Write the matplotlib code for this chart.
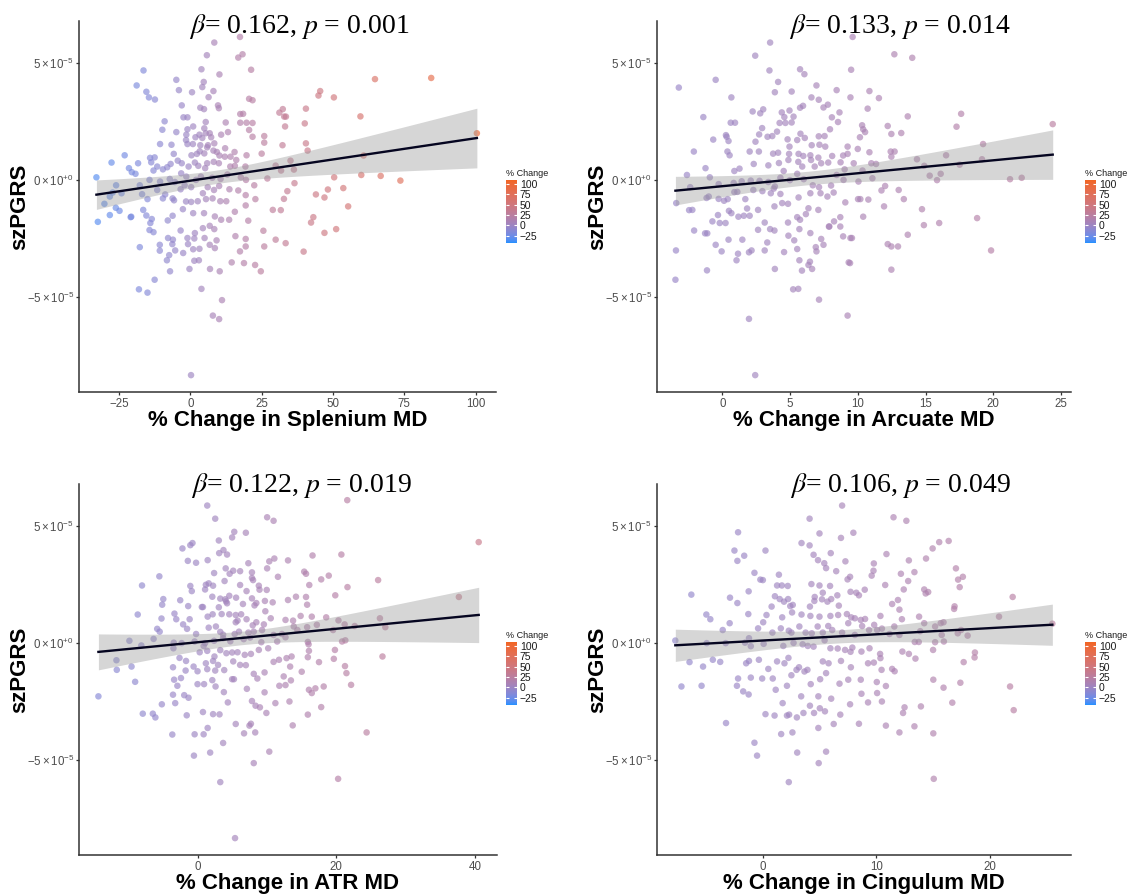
import matplotlib.pyplot as plt
import numpy as np
from matplotlib.colors import ListedColormap, Normalize, to_rgb
from matplotlib.cm import ScalarMappable

plt.rcParams['font.family'] = ['Liberation Sans', 'DejaVu Sans']
plt.rcParams['mathtext.fontset'] = 'custom'
plt.rcParams['mathtext.rm'] = 'Liberation Sans'
plt.rcParams['mathtext.it'] = 'Liberation Sans:italic'

# ---- data (szPGRS in units of 1e-5) ----
spl_x = [8.4, 17.4, 18.3, 16.8, 5.8, 21.3, 3.9, 10.2, -16.4, -18.8,
         -15.4, -14.5, -12.4, -4.9, -4.0, 0.6, 4.7, 4.2, 8.1, 6.4,
         20.6, 21.8, 45.5, 44.9, 50.3, 64.7, 84.4, -3.0, 3.5, 4.8,
         9.7, 10.0, 32.4, 31.2, 40.5, 17.5, 18.5, -2.4, -1.0, -9.0,
         5.4, 17.5, 19.7, 21.8, 32.9, 33.5, 59.6, 40.1, -9.8, -1.0,
         1.0, 4.9, 12.4, 20.6, 33.2, -4.9, -1.4, 3.2, 5.4, 6.8,
         10.8, 13.2, 25.9, 100.4, -1.5, 1.8, 4.2, 7.3, 21.8, 25.9,
         -10.6, -6.6, -1.0, 0.9, 3.5, 6.2, 8.4, 12.2, 32.3, 40.5,
         3.3, 5.9, 8.1, 9.3, 15.5, 41.1, -23.0, -14.1, -12.5, -5.8,
         0.4, 2.3, 4.9, 10.2, 12.1, 14.1, 19.7, 25.0, -27.6, -18.3,
         -13.7, -11.6, -6.9, -4.4, -3.0, 1.6, 5.9, 8.2, 10.0, 16.1,
         19.3, 35.1, 60.7, -21.5, -20.5, -19.2, -12.9, -9.6, -8.1, -3.2,
         -0.6, 2.8, 5.2, 14.0, 15.6, 29.9, 36.3, 31.8, 50.4, 59.9,
         66.7, 73.6, -32.9, -26.0, -17.7, -14.3, -10.6, -7.2, -5.4, -1.4,
         2.0, 3.7, 7.7, 10.6, 13.0, 17.7, 19.5, 27.0, -28.2, -27.2,
         -24.1, -16.9, -15.0, -11.6, -8.8, -6.2, -3.4, -2.0, 0.3, 4.4,
         6.1, 8.3, 10.1, 13.7, 16.8, 22.4, 34.0, 36.5, 44.0, 48.2,
         53.6, 47.0, -30.1, -26.1, -24.8, -16.5, -9.6, -5.7, -1.5, 0.3,
         2.6, 5.5, 7.8, 10.5, 12.6, 19.4, 22.8, 32.8, 55.3, -32.4,
         -28.2, -20.9, -20.7, -15.4, -13.5, -14.0, -7.9, -6.2, -2.6, 1.0,
         4.8, 8.6, 10.8, 15.6, 19.4, 28.9, 31.7, -14.3, -12.9, -3.4,
         1.6, 4.4, 6.8, 8.4, 13.6, 20.3, 43.1, 42.3, 25.6, 47.0,
         51.1, -7.8, -6.1, -1.0, 1.4, 5.0, 9.2, 15.8, 19.4, 29.9,
         33.4, -17.7, -10.7, -10.7, -6.3, -5.3, -2.5, -0.8, 1.0, 3.2,
         6.8, 8.6, 19.4, 25.9, 17.4, 39.7, -7.4, -8.2, 1.4, 3.0,
         6.9, -0.3, 14.5, 18.8, 22.7, 24.7, 10.3, -7.1, -12.5, -18.0,
         -15.0, 3.9, 11.1, 7.9, 10.1, 0.25]
spl_y = [5.86, 6.10, 5.36, 5.22, 5.32, 4.70, 4.72, 4.50, 4.67, 4.03,
         3.76, 3.52, 3.43, 4.27, 3.83, 3.74, 4.18, 3.96, 3.79, 3.53,
         3.46, 3.40, 3.79, 3.60, 3.52, 4.30, 4.35, 3.18, 3.08, 3.02,
         3.18, 3.06, 3.02, 2.87, 3.04, 2.81, 2.82, 2.67, 2.67, 2.50,
         2.47, 2.44, 2.44, 2.43, 2.70, 2.70, 2.71, 2.41, 2.14, 2.16,
         2.28, 2.20, 2.45, 2.13, 2.28, 2.04, 1.93, 1.93, 1.99, 1.99,
         1.93, 2.04, 1.87, 1.99, 1.70, 1.82, 1.79, 1.82, 1.84, 1.59,
         1.53, 1.50, 1.53, 1.53, 1.48, 1.48, 1.56, 1.35, 1.48, 1.56,
         1.22, 1.39, 1.25, 1.19, 1.19, 1.25, 1.05, 0.94, 0.96, 1.11,
         1.05, 1.11, 1.13, 1.04, 0.99, 0.99, 1.05, 1.12, 0.74, 0.71,
         0.75, 0.57, 0.68, 0.82, 0.71, 0.74, 0.71, 0.77, 0.71, 0.85,
         0.57, 0.82, 1.04, 0.50, 0.33, 0.26, 0.40, 0.45, 0.54, 0.28,
         0.57, 0.60, 0.50, 0.57, 0.60, 0.61, 0.44, 0.40, 0.11, 0.21,
         0.17, -0.03, 0.11, -0.23, -0.23, 0.00, -0.07, 0.04, -0.09, 0.14,
         0.00, 0.14, 0.09, 0.04, 0.23, 0.11, 0.00, 0.06, -0.71, -0.54,
         -0.57, -0.61, -0.82, -0.43, -0.62, -0.79, -0.40, -0.23, -0.31, -0.57,
         -0.31, -0.43, -0.26, -0.40, -0.45, -0.23, -0.48, -0.14, -0.62, -0.41,
         -0.35, -0.75, -1.02, -1.19, -1.32, -1.28, -0.79, -0.87, -0.92, -0.94,
         -0.91, -0.82, -0.79, -0.91, -0.91, -0.65, -0.82, -0.81, -1.13, -1.79,
         -1.50, -1.59, -1.57, -1.52, -1.67, -1.84, -1.73, -1.53, -1.25, -1.42,
         -1.42, -1.56, -1.70, -1.36, -1.09, -1.28, -1.29, -2.14, -2.23, -2.16,
         -2.27, -2.06, -1.96, -2.10, -1.70, -1.74, -1.59, -1.82, -2.17, -2.26,
         -2.10, -2.48, -2.55, -2.48, -2.50, -2.48, -2.58, -2.40, -2.52, -2.55,
         -2.70, -2.87, -2.77, -3.02, -2.74, -3.01, -3.12, -2.74, -2.96, -2.94,
         -2.77, -2.91, -2.84, -2.84, -3.05, -3.06, -3.21, -3.43, -3.45, -3.43,
         -3.80, -3.80, -3.52, -3.55, -3.63, -3.90, -3.90, -3.90, -4.26, -4.67,
         -4.81, -4.65, -5.13, -5.79, -5.94, -8.33]

arc_x = [9.62, 3.53, 2.43, 12.70, 14.02, 3.48, 5.74, 6.06, 9.51, -0.49,
         4.12, -3.21, 6.95, 3.88, 5.12, 8.44, 10.86, 0.67, 6.58, 7.12,
         9.46, 11.56, 5.96, 5.74, 7.79, 7.47, 10.73, 2.24, 3.02, 2.80,
         4.96, 4.39, -1.40, 4.58, 5.26, 8.09, 8.65, 13.69, 17.63, 0.62,
         0.94, 4.23, 4.66, 5.12, 8.54, 10.32, 12.21, 17.29, 24.39, 2.94,
         4.04, 7.95, 10.40, 2.72, 0.27, 0.32, 3.34, 3.69, 5.77, 7.12,
         7.55, 10.16, 10.54, 12.48, 13.21, -0.67, 0.46, 2.45, 4.82, 5.53,
         6.09, 4.96, 6.60, 7.17, 7.60, 9.25, 19.25, -2.10, 0.38, 0.54,
         2.02, 2.70, 3.75, 4.12, 4.93, 5.63, 5.98, 6.50, 7.09, 8.11,
         8.92, 9.25, 10.00, 10.86, 12.43, 12.72, 12.48, 16.52, -1.24, -2.61,
         -0.92, 0.89, 1.27, 2.32, 3.40, 4.18, 4.53, 4.88, 5.61, 5.90,
         6.55, 6.82, 7.30, 7.82, 8.73, 9.03, 9.70, 10.35, 11.00, 11.35,
         14.37, 14.91, 19.17, 16.12, 15.31, 17.52, -0.27, 0.84, 1.43, 2.10,
         2.75, 3.40, 3.88, 4.29, 4.99, 5.53, 6.01, 6.68, 7.14, 8.03,
         8.44, 8.95, 10.05, 11.08, 12.02, 13.02, 15.85, 21.24, 22.10, -2.37,
         -3.40, -2.45, -2.21, -1.16, -1.00, -0.27, 0.13, 0.40, 0.89, 1.11,
         1.70, 2.29, 2.96, 3.58, 3.80, 4.29, 4.42, 4.85, 5.63, 6.50,
         7.25, 7.76, 8.22, 9.08, 10.02, 10.19, 10.78, 11.75, 13.40, 11.94,
         14.74, -2.08, -1.27, -0.32, -0.73, -0.19, 0.24, 0.49, 0.67, 1.19,
         1.59, 1.83, 2.02, 2.64, 3.13, 3.85, 4.85, 5.53, 5.74, 6.17,
         6.36, 7.09, 7.87, 8.25, 8.71, 10.40, 14.88, 16.01, 18.81, -3.42,
         -1.13, -1.11, -0.49, -0.05, 0.46, 1.16, 1.05, 1.48, 1.97, 2.16,
         2.64, 3.13, 3.32, 3.53, 3.85, 3.88, 4.56, 4.88, 5.31, 5.53,
         5.69, 5.69, 5.88, 6.36, 6.47, 6.50, 6.63, 6.90, 6.95, 7.30,
         7.47, 7.14, 7.90, 8.71, 8.92, 9.46, 9.57, 9.33, 9.43, 12.21,
         12.48, 12.97, 13.69, 12.48, 19.84, -3.46, 5.23, 5.61, 9.25, 1.97,
         2.43]
arc_y = [6.10, 5.86, 5.30, 5.36, 5.21, 4.67, 4.72, 4.51, 4.70, 4.27,
         4.18, 3.94, 4.03, 3.74, 3.77, 3.83, 3.79, 3.52, 3.52, 3.42,
         3.52, 3.49, 3.16, 3.08, 3.21, 3.09, 3.04, 2.92, 3.01, 2.84,
         2.96, 2.88, 2.68, 2.68, 2.70, 2.67, 2.88, 2.71, 2.82, 2.44,
         2.44, 2.43, 2.43, 2.45, 2.47, 2.33, 2.30, 2.27, 2.38, 2.21,
         2.06, 2.16, 2.16, 1.94, 1.91, 1.84, 1.84, 1.87, 1.97, 1.86,
         1.87, 1.82, 2.04, 1.96, 2.00, 1.72, 1.66, 1.63, 1.73, 1.70,
         1.79, 1.42, 1.48, 1.50, 1.42, 1.42, 1.53, 1.21, 1.21, 1.05,
         1.21, 1.21, 1.12, 1.16, 1.11, 1.11, 1.02, 1.05, 0.95, 1.02,
         1.04, 1.11, 1.32, 1.18, 1.21, 1.21, 0.99, 1.05, 0.50, 0.21,
         0.11, 0.38, 0.48, 0.68, 0.62, 0.72, 0.38, 0.85, 0.77, 0.57,
         0.85, 0.57, 0.71, 0.74, 0.75, 0.45, 0.71, 0.40, 0.71, 0.68,
         0.88, 0.60, 0.88, 0.26, 0.18, 0.65, -0.18, -0.13, -0.06, -0.03,
         -0.04, -0.09, -0.28, 0.09, -0.01, 0.26, 0.03, -0.23, -0.31, -0.24,
         0.21, 0.00, -0.07, 0.07, -0.26, -0.43, -0.01, 0.03, 0.09, -0.31,
         -0.99, -1.29, -1.28, -0.77, -0.71, -0.81, -0.89, -0.82, -0.52, -0.51,
         -0.82, -0.43, -0.48, -0.57, -0.37, -0.60, -0.99, -1.02, -0.75, -0.57,
         -0.57, -0.71, -0.54, -0.96, -0.82, -0.82, -0.84, -0.45, -0.82, -1.13,
         -1.25, -2.16, -2.28, -1.50, -1.77, -1.84, -1.84, -1.32, -1.42, -1.57,
         -1.53, -1.22, -1.53, -1.28, -1.82, -1.13, -1.82, -1.59, -1.70, -1.46,
         -1.21, -1.28, -1.99, -1.77, -1.59, -1.57, -1.93, -1.84, -1.63, -3.01,
         -3.86, -2.28, -2.77, -3.05, -2.55, -3.15, -3.43, -2.55, -3.09, -3.01,
         -2.13, -3.01, -2.67, -2.10, -2.16, -3.80, -3.08, -2.38, -2.58, -2.95,
         -2.10, -3.43, -3.87, -3.63, -3.49, -2.27, -3.80, -2.87, -3.05, -2.52,
         -2.77, -5.11, -1.99, -1.99, -2.41, -2.48, -2.48, -3.52, -3.55, -2.74,
         -2.84, -2.84, -2.34, -3.83, -3.01, -4.26, -4.67, -4.65, -5.79, -5.93,
         -8.33]

atr_x = [1.40, 21.6, 2.55, 10.04, 10.97, 6.97, 5.30, 4.99, 3.07, 40.56,
         -2.18, -1.04, -0.73, 3.74, 4.26, 3.12, 1.46, -1.40, -0.21, 7.33,
         10.35, 11.08, 13.05, 16.59, 20.75, 4.06, 5.15, 6.14, 10.04, 11.60,
         7.85, 15.39, 15.65, 17.84, 18.93, 26.05, -5.51, 2.39, 4.63, 7.85,
         8.01, -8.01, -1.04, 1.20, 1.61, 2.24, 3.90, 6.14, 8.84, 8.94,
         9.98, 16.12, 21.63, -0.83, 1.09, 7.07, 14.20, 15.65, 19.87, 37.70,
         -4.94, -2.50, 2.13, 3.28, 4.00, 4.11, 4.26, 4.58, 5.56, 7.85,
         8.22, 8.48, 9.72, 10.84, 13.05, 15.81, -5.10, -1.35, 0.62, 0.78,
         3.07, 6.55, 9.78, -8.63, -5.20, -3.33, -3.07, -1.14, 1.46, 2.18,
         3.48, 4.58, 5.51, 6.29, 5.51, 5.77, 7.07, 7.96, 8.48, 9.57,
         10.56, 12.69, 13.78, 14.87, 16.48, 18.56, 20.33, 26.31, -5.82, -5.46,
         -2.08, -1.51, -0.21, 1.61, 2.65, 3.28, 3.69, 5.36, 5.98, 7.33,
         8.11, 9.31, 10.97, 12.17, 13.88, 14.40, 15.81, 17.21, 19.55, 21.22,
         22.67, 27.09, -9.83, -8.11, -6.34, -3.43, -2.29, -0.42, 1.09, 2.39,
         3.69, 4.73, 6.66, 7.59, 9.20, 11.49, 12.69, 15.91, 16.02, 20.85,
         21.32, -11.70, -11.65, -9.52, -9.00, -3.48, -2.60, -1.66, 0.31, 0.88,
         1.40, 2.44, 3.28, 4.16, 4.99, 5.77, 6.81, 7.70, 8.84, 10.19,
         11.75, 12.84, 13.57, 16.07, 15.91, 17.52, 19.66, 19.82, 26.68, -3.54,
         -3.38, -2.39, -1.72, -0.57, 0.00, 1.20, 1.40, 2.24, 2.55, 2.96,
         3.85, 5.15, 5.25, 6.14, 6.97, 8.11, 9.67, 10.97, 12.43, 13.36,
         15.03, 21.27, 21.48, -7.90, -6.45, -6.08, -5.15, -3.54, -3.22, -2.91,
         -1.92, -1.56, -1.30, 0.00, 0.78, 0.94, 2.13, 2.24, 2.60, 3.17,
         3.80, 4.37, 4.99, 7.12, 7.85, 8.37, 8.63, 9.00, 9.67, 9.93,
         11.23, 11.80, 12.69, 13.47, 13.26, 15.91, 16.07, 16.48, 17.00, 17.84,
         18.20, 22.15, -3.64, -0.42, 0.88, 1.46, 3.69, 5.51, 6.71, 7.49,
         7.70, 8.32, 13.73, 24.39, -0.52, 1.82, 8.11, 10.35, 3.28, 20.28,
         5.41, -14.30]
atr_y = [5.86, 6.09, 5.30, 5.36, 5.21, 4.70, 4.74, 4.50, 4.37, 4.30,
         4.03, 4.17, 4.26, 3.96, 3.77, 3.83, 3.53, 3.50, 3.42, 3.40,
         3.48, 3.60, 3.52, 3.73, 3.77, 3.18, 3.08, 3.06, 3.18, 2.82,
         3.01, 3.04, 2.95, 2.71, 2.87, 2.68, 2.84, 2.98, 2.95, 2.77,
         2.68, 2.45, 2.43, 2.48, 2.54, 2.44, 2.64, 2.47, 2.44, 2.27,
         2.26, 2.47, 2.38, 2.21, 2.28, 2.21, 1.97, 1.96, 2.03, 1.96,
         1.87, 1.82, 1.97, 1.89, 1.86, 1.77, 1.69, 2.01, 1.93, 1.90,
         1.60, 1.70, 1.79, 1.73, 1.83, 1.63, 1.63, 1.57, 1.53, 1.53,
         1.52, 1.66, 1.35, 1.21, 1.04, 1.25, 1.01, 1.01, 1.12, 1.22,
         1.23, 1.22, 1.19, 1.22, 0.88, 0.95, 1.01, 0.75, 0.88, 0.79,
         1.05, 0.98, 0.95, 1.15, 1.12, 1.09, 0.96, 1.05, 0.60, 0.48,
         0.79, 0.60, 0.38, 0.65, 0.70, 0.47, 0.35, 0.38, 0.48, 0.44,
         0.48, 0.55, 0.34, 0.38, 0.70, 0.55, 0.67, 0.77, 0.55, 0.79,
         0.72, 0.67, 0.09, -0.11, 0.17, 0.01, -0.01, 0.06, -0.01, 0.09,
         0.20, 0.07, 0.16, 0.23, 0.03, 0.06, 0.24, 0.04, -0.06, 0.06,
         0.11, -0.74, -1.15, -1.01, -1.66, -0.23, -0.64, -0.77, -0.40, -0.13,
         -0.34, -0.58, -0.31, -0.44, -0.41, -0.40, -0.51, -0.47, -0.30, -0.23,
         -0.72, -0.65, -0.58, -0.34, -0.61, -0.82, -0.68, -0.30, -0.58, -1.04,
         -1.57, -1.50, -1.18, -1.01, -1.21, -0.87, -1.12, -0.77, -1.18, -0.94,
         -1.16, -0.79, -1.55, -0.94, -0.95, -1.32, -1.26, -0.81, -1.43, -1.01,
         -1.23, -0.99, -1.29, -3.02, -3.02, -3.18, -2.62, -2.21, -2.57, -1.83,
         -2.23, -3.09, -2.34, -1.76, -2.95, -1.76, -1.59, -3.04, -1.86, -3.05,
         -2.10, -2.54, -1.55, -1.96, -2.48, -2.68, -1.52, -2.75, -2.11, -2.99,
         -2.57, -1.83, -1.80, -1.60, -2.50, -3.06, -2.00, -2.14, -1.94, -2.74,
         -1.86, -1.79, -3.91, -3.90, -3.90, -3.63, -4.27, -3.46, -3.86, -3.53,
         -3.45, -3.82, -3.52, -3.82, -4.81, -4.68, -5.13, -4.64, -5.94, -5.80,
         -8.33, -2.28]

cing_x = [7.00, 4.14, 11.52, 12.65, -2.15, 5.01, 7.99, 6.90, 16.37, 15.54,
          3.43, 4.14, 14.96, -2.47, 0.26, 6.00, -1.61, 4.49, 10.90, -2.21,
          4.88, 5.43, 7.29, 9.79, 12.87, 14.38, 5.59, 9.76, 13.36, 17.01,
          -0.71, 6.48, 9.60, 12.17, 7.70, 1.44, 17.62, -0.19, 0.03, 17.20,
          7.48, 12.81, 1.28, 1.70, 2.22, 4.30, 5.01, 5.94, 10.79, 17.34,
          8.99, 14.22, 12.42, -6.26, -1.22, 5.30, 7.74, 8.25, 8.48, 6.58,
          14.35, 14.57, -2.86, 1.09, 1.51, 2.25, 4.59, 5.23, 6.04, 11.91,
          22.00, -2.21, 0.80, 1.89, 2.44, 2.66, 4.17, 4.56, 5.71, 6.71,
          11.40, 12.04, 16.89, 16.85, -4.94, -4.59, -1.25, 0.35, 1.73, 2.60,
          3.43, 4.21, 5.01, 5.97, 6.65, 7.42, 7.80, 8.12, 8.64, 9.02,
          10.37, 12.26, 13.77, 14.22, 15.67, 15.92, 20.80, 25.49, -3.50, -2.89,
          0.06, -0.39, 0.87, 1.61, 2.31, 2.54, 3.24, 3.79, 4.33, 4.85,
          5.30, 5.78, 6.13, 7.00, 7.54, 8.12, 8.76, 9.37, 9.82, 10.08,
          10.50, 11.17, 11.59, 12.04, 13.87, 15.18, 15.76, 17.17, 17.46, 18.04,
          -7.67, -4.91, -3.24, -1.54, -1.19, -1.03, 0.10, 1.83, 2.73, 3.53,
          3.98, 4.49, 5.46, 5.97, 6.61, 7.26, 7.74, 7.90, 8.70, 9.41,
          10.34, 12.30, 12.87, 13.39, 13.74, 15.00, 15.18, 15.95, 18.68, -6.42,
          -4.37, -3.72, -5.23, -1.44, -1.19, -0.32, 0.51, 1.28, 1.93, 2.28,
          3.21, 3.95, 5.30, 5.81, 6.90, 7.77, 9.28, 9.79, 10.37, 10.47,
          11.40, 11.62, 13.45, 18.65, 17.69, -7.13, -5.36, -2.15, -2.25, -1.70,
          -1.22, -1.03, -0.03, 0.90, 1.16, 2.15, 2.54, 2.99, 3.69, 4.24,
          5.07, 5.59, 6.77, 7.54, 8.64, 10.05, 10.85, 15.02, 15.92, 17.40,
          21.77, -3.21, -0.71, -0.48, 0.26, 1.06, 1.64, 1.77, 2.15, 2.34,
          2.63, 3.02, 3.05, 3.40, 3.60, 4.17, 4.53, 4.91, 4.91, 5.04,
          5.49, 5.59, 6.04, 6.26, 6.84, 7.70, 8.48, 8.70, 9.28, 10.08,
          10.50, 10.85, 12.04, 12.36, 12.49, 13.36, 13.93, 15.02, 16.69, 22.09,
          4.94, 2.31, 15.06]
cing_y = [5.86, 5.30, 5.36, 5.21, 4.72, 4.67, 4.70, 4.48, 4.35, 4.30,
          4.26, 4.16, 4.03, 3.94, 3.94, 3.83, 3.72, 3.76, 3.79, 3.50,
          3.53, 3.40, 3.48, 3.39, 3.52, 3.60, 3.19, 3.08, 3.02, 3.18,
          2.99, 3.06, 2.87, 2.95, 2.82, 2.91, 2.82, 2.70, 2.68, 2.70,
          2.71, 2.64, 2.45, 2.45, 2.43, 2.51, 2.45, 2.43, 2.47, 2.38,
          2.27, 2.28, 2.28, 2.06, 2.20, 2.14, 2.18, 2.14, 2.03, 2.03,
          2.11, 2.17, 1.93, 1.99, 1.87, 1.87, 1.96, 1.86, 1.87, 1.83,
          1.96, 1.70, 1.55, 1.76, 1.57, 1.62, 1.55, 1.79, 1.76, 1.59,
          1.66, 1.42, 1.56, 1.45, 1.21, 1.01, 1.23, 1.19, 1.09, 1.30,
          1.21, 1.15, 1.12, 1.15, 1.19, 1.23, 1.09, 1.05, 0.98, 1.02,
          1.15, 1.01, 1.12, 0.84, 0.84, 0.88, 1.12, 0.82, 0.55, 0.84,
          0.88, 0.62, 0.44, 0.62, 0.52, 0.44, 0.70, 0.44, 0.41, 0.70,
          0.44, 0.72, 0.55, 0.44, 0.84, 0.34, 0.72, 0.55, 0.77, 0.55,
          0.61, 0.38, 0.70, 0.34, 0.50, 0.70, 0.34, 0.41, 0.55, 0.31,
          0.10, -0.01, -0.01, 0.01, 0.20, -0.14, -0.04, -0.13, 0.00, -0.06,
          -0.13, -0.16, 0.11, -0.23, -0.24, -0.30, -0.38, -0.20, -0.37, -0.23,
          -0.47, -0.37, -0.47, 0.04, 0.04, -0.30, 0.03, 0.06, -0.41, -0.82,
          -0.72, -0.81, -1.01, -0.87, -0.77, -0.72, -1.11, -0.79, -0.87, -0.64,
          -1.04, -1.15, -0.79, -0.87, -0.77, -1.04, -0.87, -0.84, -0.65, -1.15,
          -1.11, -1.21, -0.67, -0.62, -0.82, -1.86, -1.83, -1.52, -1.83, -2.07,
          -2.20, -1.48, -1.52, -1.52, -2.00, -1.83, -1.38, -1.15, -1.22, -1.76,
          -1.55, -1.29, -1.74, -1.57, -1.57, -1.67, -1.84, -1.57, -1.91, -1.70,
          -1.86, -3.42, -4.26, -4.81, -3.04, -3.10, -3.89, -2.57, -3.10, -3.06,
          -3.82, -3.18, -4.68, -2.28, -2.99, -2.68, -2.99, -2.28, -3.63, -2.79,
          -2.92, -4.64, -2.38, -3.46, -3.06, -2.62, -3.45, -2.17, -2.54, -2.14,
          -2.50, -3.53, -3.82, -2.99, -2.75, -3.56, -2.71, -3.86, -2.55, -2.87,
          -5.13, -5.94, -5.80]

tracts = ['Splenium', 'Arcuate', 'ATR', 'Cingulum']
betas = ['0.162', '0.133', '0.122', '0.106']
pvals = ['0.001', '0.014', '0.019', '0.049']
xticks = [[-25, 0, 25, 50, 75, 100], [0, 5, 10, 15, 20, 25], [0, 20, 40], [0, 10, 20]]
xlims = [(-39.0, 107.1), (-4.82, 25.74), (-17.1, 43.2), (-9.28, 27.13)]
ylim = (-9.05, 6.78)
cbar_ticks = [-25, 0, 25, 50, 75, 100]
cbar_lim = (-43, 110)
low_col, high_col = '#1E90FF', '#F26522'

xs_all = [spl_x, arc_x, atr_x, cing_x]
ys_all = [spl_y, arc_y, atr_y, cing_y]

# ---- gradient interpolated in Lab space, like ggplot's scale_colour_gradient ----
M = np.array([[0.4124, 0.3576, 0.1805], [0.2126, 0.7152, 0.0722], [0.0193, 0.1192, 0.9505]])
WHITE = np.array([0.95047, 1.0, 1.08883])


def to_lab(c):
    rgb = np.array(to_rgb(c))
    lin = np.where(rgb <= 0.04045, rgb / 12.92, ((rgb + 0.055) / 1.055) ** 2.4)
    xyz = M @ lin / WHITE
    f = np.where(xyz > 0.008856, np.cbrt(xyz), 7.787 * xyz + 16 / 116)
    return np.array([116 * f[1] - 16, 500 * (f[0] - f[1]), 200 * (f[1] - f[2])])


def from_lab(lab):
    fy = (lab[0] + 16) / 116
    f = np.array([fy + lab[1] / 500, fy, fy - lab[2] / 200])
    xyz = np.where(f ** 3 > 0.008856, f ** 3, (f - 16 / 116) / 7.787) * WHITE
    lin = np.clip(np.linalg.solve(M, xyz), 0, None)
    rgb = np.where(lin <= 0.0031308, 12.92 * lin, 1.055 * lin ** (1 / 2.4) - 0.055)
    return np.clip(rgb, 0, 1)


lab_lo, lab_hi = to_lab(low_col), to_lab(high_col)
cmap = ListedColormap([from_lab(lab_lo + t * (lab_hi - lab_lo)) for t in np.linspace(0, 1, 256)])
norm = Normalize(*cbar_lim)

W, H = 1133, 894
fig = plt.figure(figsize=(W / 100, H / 100), dpi=100)

# pixel boxes: left, top, right, bottom
boxes = [(79, 21, 496, 392), (657, 21, 1071, 392), (79, 484, 497, 855), (657, 484, 1071, 855)]
title_pos = [(299, 33), (900, 33), (301, 492), (900, 492)]
ylab_x = [20, 598, 20, 598]
cbar_box = [(506, 180), (1085, 180), (506, 642), (1085, 642)]


def lm_band(x, y):
    b, a = np.polyfit(x, y, 1)
    grid = np.linspace(x.min(), x.max(), 100)
    n = len(x)
    resid = y - (a + b * x)
    s = np.sqrt(np.sum(resid ** 2) / (n - 2))
    se = s * np.sqrt(1 / n + (grid - x.mean()) ** 2 / np.sum((x - x.mean()) ** 2))
    fit = a + b * grid
    return grid, fit, fit - 1.97 * se, fit + 1.97 * se


for i in range(4):
    l, t, r, b = boxes[i]
    ax = fig.add_axes([l / W, 1 - b / H, (r - l) / W, (b - t) / H])
    x = np.array(xs_all[i])
    y = np.array(ys_all[i]) * 1e-5

    ax.scatter(x, y, c=x, cmap=cmap, norm=norm, s=22, alpha=0.65,
               linewidths=0, zorder=2)
    g, fit, lo, hi = lm_band(x, y)
    ax.fill_between(g, lo, hi, color='#999999', alpha=0.4, linewidth=0, zorder=3)
    ax.plot(g, fit, color='#050520', lw=1.7, zorder=4)

    ax.set_xlim(*xlims[i])
    ax.set_ylim(ylim[0] * 1e-5, ylim[1] * 1e-5)
    ax.set_xticks(xticks[i])
    ax.set_yticks([-5e-5, 0, 5e-5])
    ax.set_yticklabels([r'$-5\times10^{-5}$', r'$0\times10^{+0}$', r'$5\times10^{-5}$'])
    for sp in ['top', 'right']:
        ax.spines[sp].set_visible(False)
    for sp in ['left', 'bottom']:
        ax.spines[sp].set_color('#333333')
        ax.spines[sp].set_linewidth(1.1)
    ax.tick_params(colors='#333333', labelcolor='#4D4D4D', labelsize=8.3,
                   length=2.5, width=0.9, pad=1.5)
    ax.tick_params(axis='y', pad=1)
    ax.set_xlabel('%% Change in %s MD' % tracts[i], fontsize=16, fontweight='bold',
                  labelpad=0)

    fig.text(ylab_x[i] / W, 1 - (t + b) / 2 / H, 'szPGRS', rotation=90,
             fontsize=16, fontweight='bold', ha='center', va='center')

    tx, ty = title_pos[i]
    fig.text(tx / W, 1 - ty / H, r'$\beta$= %s, $p$ = %s' % (betas[i], pvals[i]),
             fontsize=20, family='Liberation Serif', math_fontfamily='stix',
             ha='center', va='baseline')

    cx, cy = cbar_box[i]
    cax = fig.add_axes([cx / W, 1 - (cy + 63) / H, 11 / W, 63 / H])
    cb = fig.colorbar(ScalarMappable(norm=norm, cmap=cmap), cax=cax, ticks=cbar_ticks)
    cb.outline.set_visible(False)
    cax.tick_params(direction='in', color='white', length=2.2, width=0.8,
                    left=True, right=True, labelsize=7.5, labelcolor='#1A1A1A', pad=2)
    cax.set_title('% Change', fontsize=6.5, loc='left', pad=3, color='#1A1A1A')

fig.savefig('out.png', dpi=100)
